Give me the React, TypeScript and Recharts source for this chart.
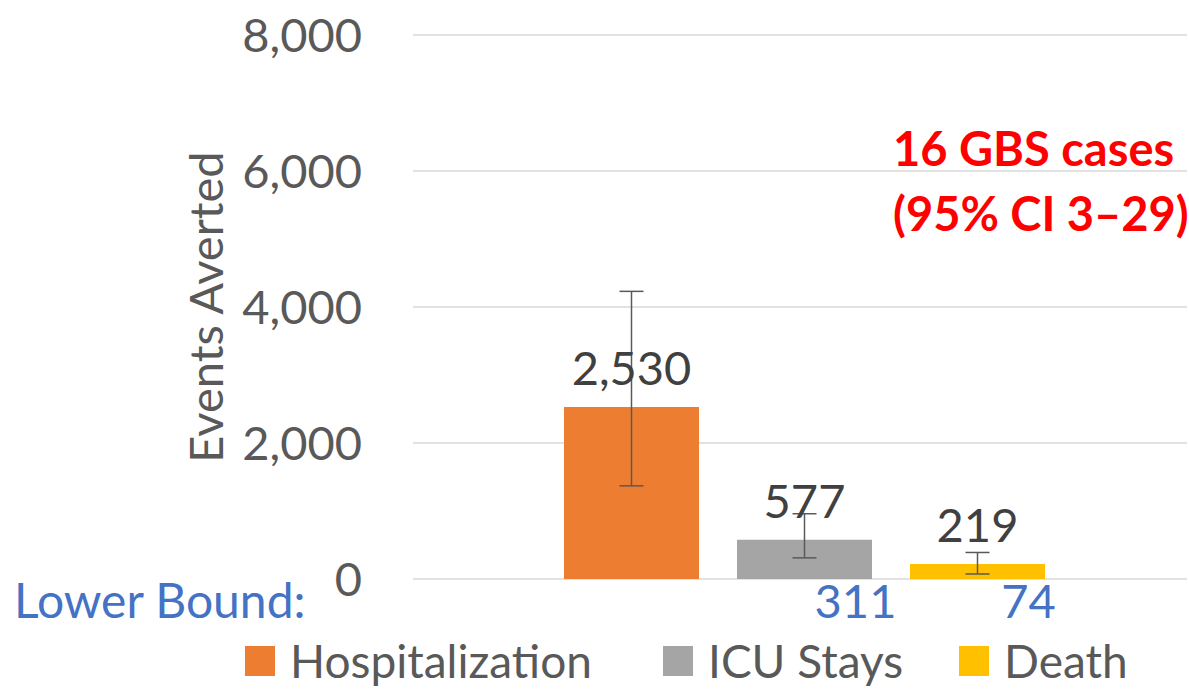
import {
  Bar,
  BarChart,
  CartesianGrid,
  Customized,
  ErrorBar,
  LabelList,
  Legend,
  XAxis,
  YAxis,
} from "recharts";

const categories = ["Events Averted"];
const seriesKeys = ["hosp", "icu", "death"];
const seriesNames = ["Hospitalization", "ICU Stays", "Death"];
const seriesColors = ["#ED7D31", "#A5A5A5", "#FFC000"];
const values = [2530, 577, 219];
const lowerBounds = [1370, 311, 74];
const upperBounds = [4230, 960, 390];
const shownLowerBounds = [null, 311, 74];
const yTicks = [0, 2000, 4000, 6000, 8000];

const FONT = "Lato, 'Noto Sans', sans-serif";

// one category row, three series
const data = categories.map((name) => {
  const row: Record<string, any> = { name };
  seriesKeys.forEach((k, i) => {
    row[k] = values[i];
    row[k + "Err"] = [values[i] - lowerBounds[i], upperBounds[i] - values[i]];
    row[k + "Low"] = shownLowerBounds[i];
  });
  return row;
});

const fmt = (v: number) => v.toLocaleString("en-US");

const LowerLabel = (props: any) => {
  const { x, y, width, height, value } = props;
  if (value == null) return null;
  return (
    <text
      x={x + width / 2 + 51}
      y={y + height + 39}
      textAnchor="middle"
      fill="#4472C4"
      fontSize={47}
      fontFamily={FONT}
    >
      {value}
    </text>
  );
};

// legend item widths
const legendWidths = [418, 296, 200];

const renderLegend = () => (
  <div
    style={{
      display: "flex",
      alignItems: "center",
      height: 48,
      lineHeight: "48px",
      fontFamily: FONT,
      fontSize: 46,
      color: "#595959",
      whiteSpace: "nowrap",
    }}
  >
    {seriesNames.map((n, i) => (
      <div
        key={n}
        style={{ display: "flex", alignItems: "center", width: legendWidths[i] }}
      >
        <span
          style={{
            display: "inline-block",
            width: 30,
            height: 30,
            background: seriesColors[i],
            marginRight: 15,
          }}
        />
        <span>{n}</span>
      </div>
    ))}
  </div>
);

const Notes = () => (
  <g fontFamily={FONT}>
    <text x={893} y={166} fill="#FF0000" fontSize={47} fontWeight="bold">
      16 GBS cases
    </text>
    <text x={893} y={231} fill="#FF0000" fontSize={47} fontWeight="bold">
      (95% CI 3–29)
    </text>
    <text x={14} y={618} fill="#4472C4" fontSize={48}>
      Lower Bound:
    </text>
  </g>
);

export default function App() {
  return (
    <div style={{ position: "absolute", left: 0, top: 0, fontFamily: FONT }}>
      <BarChart
        width={1189}
        height={690}
        data={data}
        margin={{ top: 35, right: 2, left: 0, bottom: 63 }}
        barCategoryGap={147}
        barGap={38}
      >
        <CartesianGrid vertical={false} stroke="#D9D9D9" strokeWidth={1.5} />
        <XAxis dataKey="name" hide padding={{ left: 8, right: 0 }} />
        <YAxis
          width={413}
          domain={[0, 8000]}
          ticks={yTicks}
          tickFormatter={fmt}
          axisLine={false}
          tickLine={false}
          tickSize={0}
          tickMargin={51}
          tick={{ fill: "#595959", fontSize: 47, fontFamily: FONT }}
          label={{
            value: "Events Averted",
            angle: -90,
            position: "center",
            fill: "#595959",
            fontSize: 47,
            fontFamily: FONT,
          }}
        />
        <Legend
          verticalAlign="bottom"
          content={renderLegend}
          wrapperStyle={{ left: 245, bottom: 5, width: "auto" }}
        />
        {seriesKeys.map((k, i) => (
          <Bar
            key={k}
            dataKey={k}
            name={seriesNames[i]}
            fill={seriesColors[i]}
            barSize={135}
            isAnimationActive={false}
          >
            <ErrorBar
              dataKey={k + "Err"}
              width={12}
              stroke="#595959"
              strokeWidth={1.5}
            />
            <LabelList
              dataKey={k}
              position="top"
              offset={22}
              formatter={fmt}
              fill="#404040"
              fontSize={47}
              fontFamily={FONT}
            />
            <LabelList dataKey={k + "Low"} content={LowerLabel} />
          </Bar>
        ))}
        <Customized component={Notes} />
      </BarChart>
    </div>
  );
}
